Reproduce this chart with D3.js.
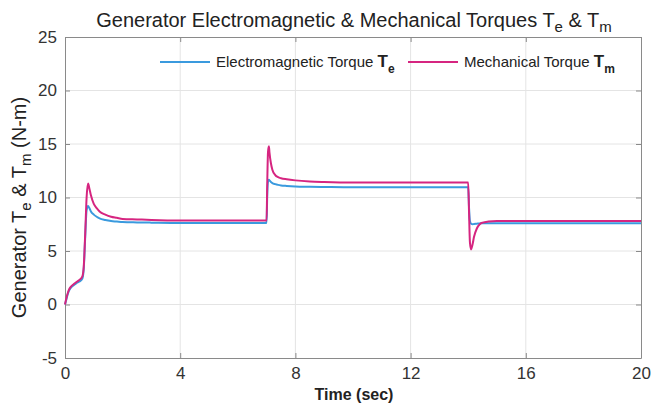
<!DOCTYPE html>
<html>
<head>
<meta charset="utf-8">
<script src="https://cdn.jsdelivr.net/npm/d3@7"></script>
<style>
  html, body { margin: 0; padding: 0; background: #fff; }
  svg { display: block; font-family: "Liberation Sans", Arial, Helvetica, sans-serif; }
</style>
</head>
<body>
<svg id="chart" width="654" height="407"></svg>
<script>
// ---- Data ----
const time = [0, 0.05, 0.1, 0.15, 0.2, 0.3, 0.4, 0.5, 0.6, 0.65, 0.7, 0.75, 0.8, 0.85, 0.9, 1.0, 1.1, 1.2, 1.4, 1.6, 1.8, 2.0, 2.5, 3, 4, 5, 6,
  7.0, 7.02, 7.05, 7.08, 7.1, 7.15, 7.2, 7.3, 7.4, 7.5, 7.7, 8, 8.5, 9, 10, 11, 12, 13,
  14.0, 14.03, 14.06, 14.1, 14.15, 14.2, 14.3, 14.4, 14.5, 14.7, 15, 16, 18, 20];
const electromagnetic = [0, 0.5, 1.0, 1.35, 1.55, 1.8, 2.0, 2.15, 2.4, 3.3, 6.2, 8.8, 9.2, 9.0, 8.7, 8.4, 8.2, 8.05, 7.9, 7.8, 7.75, 7.7, 7.67, 7.65, 7.62, 7.62, 7.62,
  7.62, 10.0, 11.5, 11.65, 11.6, 11.45, 11.35, 11.25, 11.18, 11.13, 11.08, 11.03, 11.0, 10.98, 10.95, 10.95, 10.95, 10.95,
  10.95, 9.0, 7.8, 7.55, 7.5, 7.52, 7.55, 7.58, 7.6, 7.6, 7.6, 7.6, 7.6, 7.6];
const mechanical = [0, 0.6, 1.1, 1.45, 1.65, 1.9, 2.1, 2.3, 2.6, 3.5, 6.5, 10.0, 11.3, 10.8, 10.2, 9.4, 9.0, 8.7, 8.4, 8.2, 8.1, 8.0, 7.95, 7.9, 7.85, 7.85, 7.85,
  7.85, 11.0, 14.3, 14.8, 14.2, 13.2, 12.6, 12.1, 11.9, 11.8, 11.7, 11.6, 11.5, 11.45, 11.4, 11.4, 11.4, 11.4,
  11.4, 8.5, 5.8, 5.15, 5.6, 6.3, 7.1, 7.5, 7.65, 7.75, 7.8, 7.8, 7.8, 7.8];
const xTicks = [0, 4, 8, 12, 16, 20];
const yTicks = [-5, 0, 5, 10, 15, 20, 25];

// ---- Layout ----
const svg = d3.select("#chart");
const pL = 65, pR = 641, pT = 37, pB = 358;
const x = d3.scaleLinear().domain([0, 20]).range([pL, pR]);
const y = d3.scaleLinear().domain([-5, 25]).range([pB, pT]);

// Grid
const grid = svg.append("g");
grid.selectAll(".gx").data(xTicks.slice(1, -1)).join("line")
  .attr("x1", d => x(d)).attr("x2", d => x(d)).attr("y1", pT).attr("y2", pB)
  .attr("stroke", "#e4e4e4").attr("stroke-width", 1);
grid.selectAll(".gy").data(yTicks.slice(1, -1)).join("line")
  .attr("x1", pL).attr("x2", pR).attr("y1", d => y(d)).attr("y2", d => y(d))
  .attr("stroke", "#e4e4e4").attr("stroke-width", 1);

// Axes (ticks inward, box style)
const axisColor = "#8a8a8a";
const fmt = d => String(d);
function styleAxis(g) {
  g.select(".domain").attr("stroke", axisColor);
  g.selectAll(".tick line").attr("stroke", axisColor);
  g.selectAll(".tick text").attr("fill", "#333").attr("font-size", 17);
}
svg.append("g").attr("transform", `translate(0,${pB})`)
  .call(d3.axisBottom(x).tickValues(xTicks).tickFormat(fmt).tickSizeInner(-5).tickSizeOuter(0).tickPadding(9))
  .call(styleAxis);
svg.append("g").attr("transform", `translate(0,${pT})`)
  .call(d3.axisTop(x).tickValues(xTicks).tickSizeInner(-5).tickSizeOuter(0).tickFormat(""))
  .call(styleAxis);
svg.append("g").attr("transform", `translate(${pL},0)`)
  .call(d3.axisLeft(y).tickValues(yTicks).tickFormat(fmt).tickSizeInner(-5).tickSizeOuter(0).tickPadding(8))
  .call(styleAxis);
svg.append("g").attr("transform", `translate(${pR},0)`)
  .call(d3.axisRight(y).tickValues(yTicks).tickSizeInner(-5).tickSizeOuter(0).tickFormat(""))
  .call(styleAxis);

// Lines
const blue = "#3a9ade", pink = "#d62580";
const lineE = d3.line().x((d, i) => x(time[i])).y(d => y(d)).curve(d3.curveMonotoneX);
svg.append("path").datum(electromagnetic).attr("d", lineE)
  .attr("fill", "none").attr("stroke", blue).attr("stroke-width", 2);
svg.append("path").datum(mechanical).attr("d", lineE)
  .attr("fill", "none").attr("stroke", pink).attr("stroke-width", 2);

// Legend
const leg = svg.append("g").attr("font-size", 15).attr("fill", "#222");
function legendItem(x0, color, label, sub) {
  leg.append("line").attr("x1", x0).attr("x2", x0 + 50).attr("y1", 62).attr("y2", 62)
    .attr("stroke", color).attr("stroke-width", 2);
  const t = leg.append("text").attr("x", x0 + 56).attr("y", 67);
  t.append("tspan").text(label);
  t.append("tspan").attr("font-weight", "bold").attr("font-size", 17).text("T");
  t.append("tspan").attr("font-weight", "bold").attr("font-size", 12).attr("dy", 6).text(sub);
}
legendItem(160, blue, "Electromagnetic Torque ", "e");
legendItem(408, pink, "Mechanical Torque ", "m");

// Title
const title = svg.append("text").attr("x", 354).attr("y", 27).attr("text-anchor", "middle")
  .attr("font-size", 20).attr("fill", "#222");
title.append("tspan").text("Generator Electromagnetic & Mechanical Torques T");
title.append("tspan").attr("font-size", 15).attr("dy", 5).text("e");
title.append("tspan").attr("dy", -5).text(" & T");
title.append("tspan").attr("font-size", 15).attr("dy", 5).text("m");

// Y label
const yl = svg.append("text").attr("transform", `translate(26,${(pT + pB) / 2 + 10}) rotate(-90)`)
  .attr("text-anchor", "middle").attr("font-size", 20).attr("fill", "#222");
yl.append("tspan").text("Generator T");
yl.append("tspan").attr("font-size", 15).attr("dy", 5).text("e");
yl.append("tspan").attr("dy", -5).text(" & T");
yl.append("tspan").attr("font-size", 15).attr("dy", 5).text("m");
yl.append("tspan").attr("dy", -5).text(" (N-m)");

// X label
svg.append("text").attr("x", 354).attr("y", 400).attr("text-anchor", "middle")
  .attr("font-size", 16).attr("font-weight", "bold").attr("fill", "#222").text("Time (sec)");
</script>
</body>
</html>
